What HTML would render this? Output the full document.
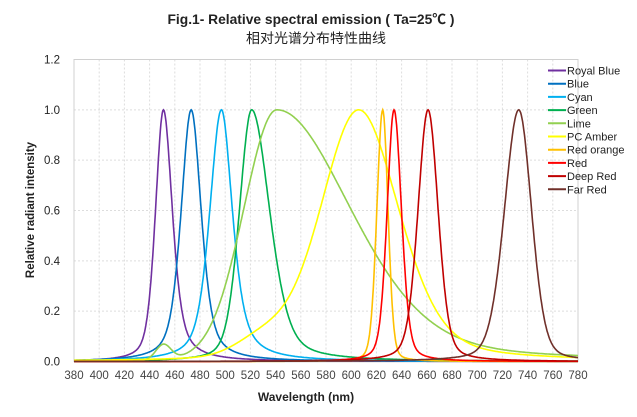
<!DOCTYPE html>
<html><head><meta charset="utf-8"><style>
body{margin:0;background:#fff;width:637px;height:417px;overflow:hidden}
svg{display:block}
text{font-family:"Liberation Sans","Noto Sans CJK SC",sans-serif}
</style></head><body>
<svg id="s" width="637" height="417" viewBox="0 0 637 417">
<text x="311" y="24" text-anchor="middle" font-size="13.5" font-weight="bold" fill="#222" textLength="287" lengthAdjust="spacingAndGlyphs">Fig.1- Relative spectral emission ( Ta=25℃ )</text>
<text x="316" y="43" text-anchor="middle" font-size="13.5" fill="#222" font-family="'Noto Sans CJK SC',sans-serif" textLength="140" lengthAdjust="spacingAndGlyphs">相对光谱分布特性曲线</text>
<text x="306" y="401" text-anchor="middle" font-size="12" font-weight="bold" fill="#222">Wavelength (nm)</text>
<text transform="translate(34,210) rotate(-90)" text-anchor="middle" font-size="11.5" font-weight="bold" fill="#222">Relative radiant intensity</text>
<g id="grid"></g>
<g id="curves" fill="none" stroke-width="1.6"></g>
<g id="leg"></g>
</svg>
<script>
var NS="http://www.w3.org/2000/svg",s=document.getElementById('s');
function el(p,t,a,txt){var e=document.createElementNS(NS,t);for(var k in a)e.setAttribute(k,a[k]);if(txt!=null)e.textContent=txt;p.appendChild(e);return e;}
var X0=74,X1=578,Y0=361.5,Y1=59.5;
function X(w){return X0+(w-380)*(X1-X0)/400;}
function Y(v){return Y0-v*(Y0-Y1)/1.2;}
var g=document.getElementById('grid');
for(var w=380;w<=780;w+=20){
 if(w>380&&w<780)el(g,'line',{x1:X(w),x2:X(w),y1:Y1,y2:Y0,stroke:'#ddd','stroke-dasharray':'2,2','stroke-width':1});
 el(g,'text',{x:X(w),y:379,'text-anchor':'middle','font-size':'11.5',fill:'#444','font-family':"'Liberation Serif',serif"},w);
}
for(var i=0;i<=6;i++){var v=i*0.2;
 if(i>0&&i<6)el(g,'line',{x1:X0,x2:X1,y1:Y(v),y2:Y(v),stroke:'#ddd','stroke-dasharray':'2,2','stroke-width':1});
 el(g,'text',{x:60,y:Y(v)+4,'text-anchor':'end','font-size':'11.5',fill:'#222'},v.toFixed(1));
}
el(g,'rect',{x:X0,y:Y1,width:X1-X0,height:Y0-Y1,fill:'none',stroke:'#d0d0d0','stroke-width':1});
el(g,'line',{x1:X0,x2:X1,y1:Y0,y2:Y0,stroke:'#bbb','stroke-width':1.5});
function pv(x,p,wl,wr,el_,er){var w=x<p?wl:wr,eta=x<p?el_:er,d=(x-p)/(w/2);return (1-eta)*Math.exp(-Math.LN2*d*d)+eta/(1+d*d);}
function gs(x,p,w){var d=(x-p)/(w/2);return Math.exp(-Math.LN2*d*d);}
var S=[
 ['Royal Blue','#7030a0',function(x){return pv(x,451,15,17,0.4,0.6)}],
 ['Blue','#0070c0',function(x){return pv(x,473,19,19,0.5,0.55)}],
 ['Cyan','#00b0f0',function(x){return pv(x,497,22,21,0.5,0.65)}],
 ['Green','#00b050',function(x){return pv(x,521,23,34,0.3,0.4)}],
 ['Lime','#92d050',function(x){return pv(x,541,62,140,0.06,0.3)+0.06*gs(x,451,14)}],
 ['PC Amber','#ffff00',function(x){return pv(x,606,72,76,0.2,0.35)+0.07*gs(x,530,50)*(x<606?1:0)}],
 ['Red orange','#ffc000',function(x){return pv(x,625,11,10,0.2,0.2)}],
 ['Red','#ff0000',function(x){return pv(x,634,13,14,0.3,0.3)}],
 ['Deep Red','#c00000',function(x){return pv(x,661,19,19,0.3,0.3)}],
 ['Far Red','#70302a',function(x){return pv(x,733,27,24,0.25,0.25)}]
];
var c=document.getElementById('curves'),L=document.getElementById('leg');
S.forEach(function(sr,k){var d='';for(var x=380;x<=780;x+=0.5){d+=(x==380?'M':'L')+X(x).toFixed(1)+','+Y(Math.min(1,sr[2](x))).toFixed(1);}
 el(c,'path',{d:d,stroke:sr[1]});
 var y=70.5+k*13.2;
 el(L,'line',{x1:548,x2:566,y1:y,y2:y,stroke:sr[1],'stroke-width':2});
 el(L,'text',{x:567,y:y+4,'font-size':'11',fill:'#222'},sr[0]);
});
</script>
</body></html>
